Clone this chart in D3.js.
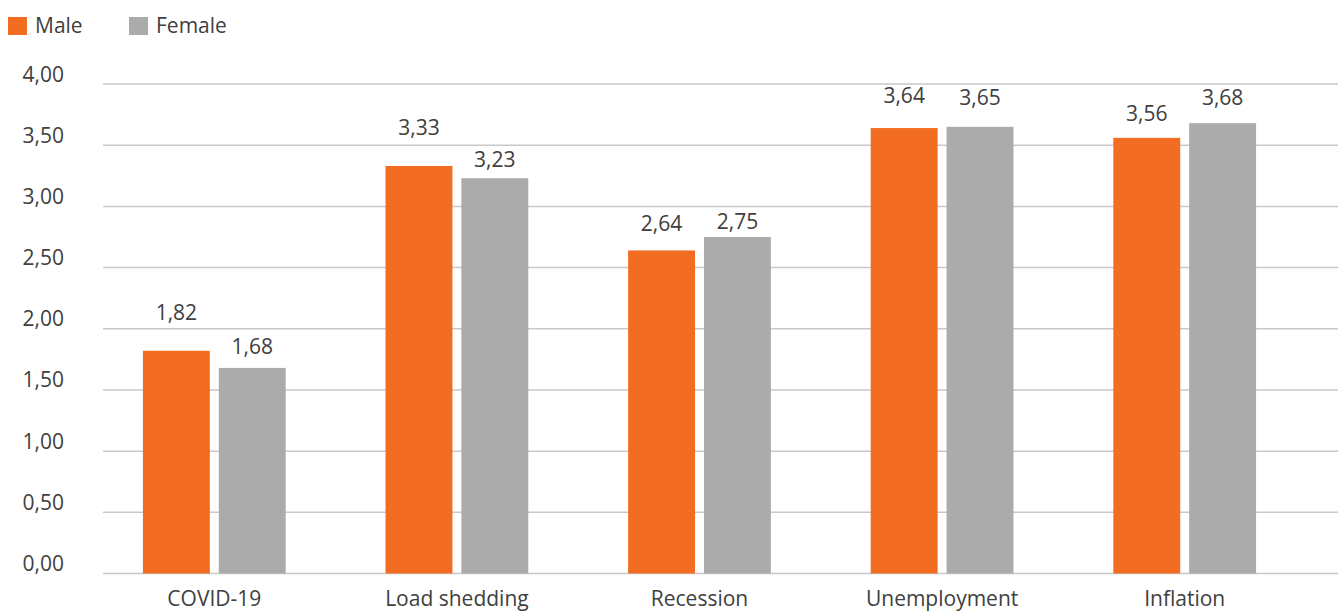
<!DOCTYPE html>
<html>
<head>
<meta charset="utf-8">
<script src="https://cdn.jsdelivr.net/npm/d3@7"></script>
<style>
  html, body { margin: 0; padding: 0; background: #ffffff; }
  svg { display: block; }
  text { font-family: "Open Sans", "Noto Sans", sans-serif; fill: #404040; }
</style>
</head>
<body>
<svg id="chart" width="1341" height="612"></svg>
<script>
// ---- data ----
const categories = ["COVID-19", "Load shedding", "Recession", "Unemployment", "Inflation"];
const seriesNames = ["Male", "Female"];
const maleValues = [1.82, 3.33, 2.64, 3.64, 3.56];
const femaleValues = [1.68, 3.23, 2.75, 3.65, 3.68];
const yTicks = [0, 0.5, 1, 1.5, 2, 2.5, 3, 3.5, 4];

// ---- layout / style settings ----
const colors = { Male: "#F26C22", Female: "#ABABAB" };
const labelLift = { Male: [31, 31, 19, 25, 17], Female: [14, 11, 8, 22, 18] };
const fontSize = 21;

const svg = d3.select("#chart");
const fmt = v => d3.format(".2f")(v).replace(".", ",");

const y = d3.scaleLinear().domain([0, 4]).range([573.5, 84]);
const x0 = d3.scaleBand().domain(categories).range([93, 1306])
  .paddingInner(0.4115).paddingOuter(0.2058);
const x1 = d3.scaleBand().domain(seriesNames).range([0, x0.bandwidth()])
  .paddingInner(0.118).paddingOuter(0);

const rows = categories.map((c, i) => ({
  cat: c, i,
  vals: [{ s: "Male", v: maleValues[i] }, { s: "Female", v: femaleValues[i] }]
}));

// gridlines
svg.append("g").selectAll("line").data(yTicks).join("line")
  .attr("x1", 103).attr("x2", 1338)
  .attr("y1", d => y(d)).attr("y2", d => y(d))
  .attr("stroke", "#C9C9C9").attr("stroke-width", 1.5);

// y axis labels
const yAxis = d3.axisLeft(y).tickValues(yTicks).tickFormat(fmt).tickSize(0).tickPadding(0);
const gy = svg.append("g").attr("transform", "translate(64,0)").call(yAxis);
gy.select(".domain").remove();
gy.selectAll("text")
  .attr("dy", null).attr("y", -3)
  .style("font-size", fontSize + "px")
  .style("font-family", '"Open Sans", sans-serif')
  .attr("fill", "#404040");

// bars
const groups = svg.append("g").selectAll("g").data(rows).join("g")
  .attr("transform", d => `translate(${x0(d.cat)},0)`);

groups.selectAll("rect").data(d => d.vals).join("rect")
  .attr("x", d => x1(d.s))
  .attr("width", x1.bandwidth())
  .attr("y", d => y(d.v))
  .attr("height", d => y(0) - y(d.v))
  .attr("fill", d => colors[d.s]);

// data labels
groups.each(function (row) {
  d3.select(this).selectAll("text.val").data(row.vals).join("text")
    .attr("class", "val")
    .attr("x", d => x1(d.s) + x1.bandwidth() / 2)
    .attr("y", d => y(d.v) - labelLift[d.s][row.i])
    .attr("text-anchor", "middle")
    .style("font-size", fontSize + "px")
    .text(d => fmt(d.v));
});

// x axis (category labels)
const xAxis = d3.axisBottom(x0).tickSize(0).tickPadding(0);
const gx = svg.append("g").attr("transform", "translate(0,606)").call(xAxis);
gx.select(".domain").remove();
gx.selectAll("text")
  .attr("dy", null).attr("y", 0)
  .style("font-size", fontSize + "px")
  .style("font-family", '"Open Sans", sans-serif')
  .attr("fill", "#404040");

// legend
const legend = svg.append("g").selectAll("g").data(seriesNames).join("g")
  .attr("transform", (d, i) => `translate(${i === 0 ? 8 : 129},17)`);
legend.append("rect").attr("width", 19).attr("height", 18).attr("fill", d => colors[d]);
legend.append("text").attr("x", 27).attr("y", 16)
  .style("font-size", fontSize + "px").text(d => d);
</script>
</body>
</html>
